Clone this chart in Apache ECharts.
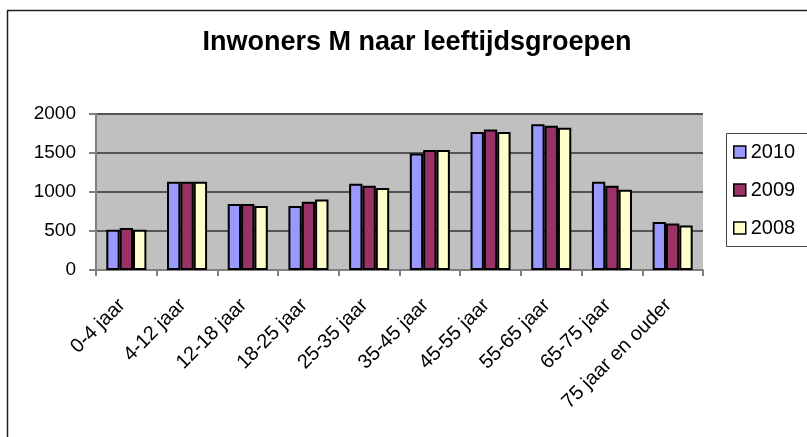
<!DOCTYPE html>
<html><head><meta charset="utf-8">
<script src="https://cdn.jsdelivr.net/npm/echarts@6/dist/echarts.min.js"></script>
<style>html,body{margin:0;padding:0;background:#fff}#c{width:807px;height:437px}</style>
</head><body><div id="c"></div>
<script>
const categories = ['0-4 jaar','4-12 jaar','12-18 jaar','18-25 jaar','25-35 jaar','35-45 jaar','45-55 jaar','55-65 jaar','65-75 jaar','75 jaar en ouder'];
const v2010 = [515, 1130, 845, 820, 1105, 1495, 1770, 1870, 1130, 615];
const v2009 = [540, 1130, 845, 875, 1080, 1540, 1800, 1850, 1080, 595];
const v2008 = [515, 1130, 820, 905, 1050, 1540, 1770, 1825, 1030, 570];
const yTicks = [0, 500, 1000, 1500, 2000];

const F = 'Liberation Sans, Arial, sans-serif';
const chart = echarts.init(document.getElementById('c'), null, {renderer:'canvas'});
function bar(name, data, color){
  return {name, type:'bar', data, barGap:'0%', barCategoryGap:'34%',
    itemStyle:{color, borderColor:'#000', borderWidth:2}};
}
chart.setOption({
  animation:false,
  backgroundColor:'#fff',
  graphic:[
    {type:'rect', shape:{x:7.5,y:10.5,width:820,height:450}, style:{fill:'none', stroke:'#222', lineWidth:1.5}, z:-1},
    {type:'rect', shape:{x:726.5,y:133.5,width:110,height:113}, style:{fill:'none', stroke:'#444', lineWidth:1}, z:-1}
  ],
  title:{text:'Inwoners M naar leeftijdsgroepen', left:412, textAlign:'center', top:24,
    textStyle:{fontFamily:F, fontSize:27, fontWeight:'bold', color:'#000'}},
  legend:{orient:'vertical', left:726, top:133,
    itemWidth:12, itemHeight:12, itemGap:16, icon:'rect', padding:[8,10,9,7],
    borderWidth:0,
    textStyle:{fontFamily:F, fontSize:20, color:'#000', lineHeight:22},
    itemStyle:{borderColor:'#000', borderWidth:1.5},
    data:['2010','2009','2008']},
  grid:{left:96, right:104, top:114, bottom:167, show:true, backgroundColor:'#c0c0c0', borderWidth:0},
  xAxis:{type:'category', data:categories,
    axisLine:{lineStyle:{color:'#808080', width:2}},
    axisTick:{show:true, length:6, lineStyle:{color:'#808080', width:2}},
    axisLabel:{rotate:45, fontFamily:F, fontSize:20, color:'#000', margin:28, interval:0, padding:[0,6,0,0]}},
  yAxis:{type:'value', min:0, max:2000, interval:500,
    axisLine:{show:true, lineStyle:{color:'#808080', width:2}},
    axisTick:{show:true, length:7, lineStyle:{color:'#808080', width:2}},
    splitLine:{lineStyle:{color:'#555', width:2}},
    axisLabel:{fontFamily:F, fontSize:19, color:'#000', margin:20,
      formatter: v => yTicks.includes(v) ? String(v) : ''}},
  series:[bar('2010', v2010, '#9999ff'), bar('2009', v2009, '#993366'), bar('2008', v2008, '#ffffcc')]
});
</script></body></html>
